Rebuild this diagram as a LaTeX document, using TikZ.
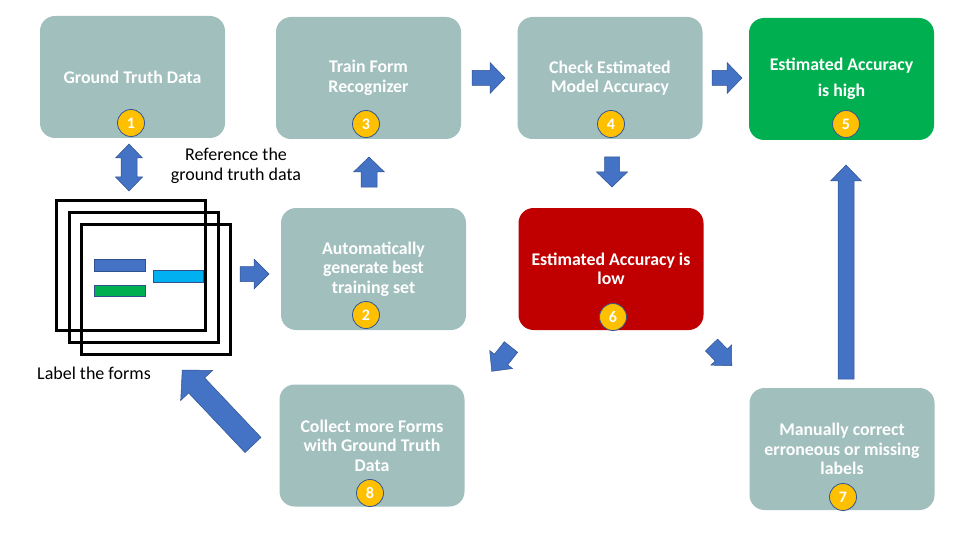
\documentclass[tikz,border=0pt]{standalone}
\usepackage{fontspec}
\setmainfont{Carlito}
\definecolor{boxc}{HTML}{A0BFBD}
\definecolor{redc}{HTML}{C00000}
\definecolor{greenc}{HTML}{00B050}
\definecolor{cyanc}{HTML}{00B0F0}
\definecolor{arrowc}{HTML}{4472C4}
\definecolor{arrowedge}{HTML}{2F528F}
\definecolor{badgec}{HTML}{FFC000}
\definecolor{badgeedge}{HTML}{2F5597}
\newcommand\blockarrow[7]{% tail x, tail y, angle, length, shaft half, head half, head length
  \begin{scope}[shift={(#1,#2)},rotate=#3]
    \filldraw[arrowpoly] (0,-#5) -- ({#4-#7},-#5) -- ({#4-#7},-#6) -- (#4,0) -- ({#4-#7},#6) -- ({#4-#7},#5) -- (0,#5) -- cycle;
  \end{scope}}
\begin{document}
\begin{tikzpicture}[x=1pt,y=1pt,
  box/.style={rounded corners=15pt, minimum width=185pt, minimum height=122pt, inner sep=0pt,
    align=center, text=white, fill=boxc, font=\fontsize{17.8}{19.5}\selectfont\bfseries},
  badge/.style={circle, fill=badgec, draw=badgeedge, line width=0.8pt, minimum size=27pt, inner sep=0pt,
    text=white, font=\fontsize{16}{16}\selectfont\bfseries},
  form/.style={draw=black, line width=3pt, minimum width=149pt, minimum height=130pt, inner sep=0pt},
  bar/.style={draw=arrowedge, line width=0.6pt, inner sep=0pt},
  lbl/.style={text=black, align=center, font=\fontsize{18}{20}\selectfont},
  arrowpoly/.style={fill=arrowc, draw=arrowedge, line width=0.5pt}]
\useasboundingbox (0,0) rectangle (960,-540);
% boxes
\node[box] (b1) at (132.5,-77) {Ground Truth Data};
\node[box] (b3) at (368.5,-78) {Train Form\\Recognizer};
\node[box] (b4) at (610,-78) {Check Estimated\\Model Accuracy};
\node[box, fill=greenc] (b5) at (841.5,-79) {Estimated Accuracy\\[7pt]is high};
\node[box] (b2) at (373.5,-269) {Automatically\\generate best\\training set};
\node[box, fill=redc] (b6) at (611,-269) {Estimated Accuracy is\\low};
\node[box] (b8) at (372,-445.5) {Collect more Forms\\with Ground Truth\\Data};
\node[box] (b7) at (842,-449) {Manually correct\\erroneous or missing\\labels};
% badges
\node[badge] (n1) at (131,-123) {1};
\node[badge] (n2) at (366,-315) {2};
\node[badge] (n3) at (366,-124) {3};
\node[badge] (n4) at (611,-124) {4};
\node[badge] (n5) at (846,-124) {5};
\node[badge] (n6) at (613,-317) {6};
\node[badge] (n7) at (843,-497) {7};
\node[badge] (n8) at (370,-493) {8};
% forms
\node[form] (f1) at (131.25,-265.5) {};
\node[form] (f2) at (143.5,-277.25) {};
\node[form] (f3) at (155.75,-289) {};
\node[bar, fill=arrowc, minimum width=51pt, minimum height=12pt] (bar1) at (119.5,-265) {};
\node[bar, fill=greenc, minimum width=51pt, minimum height=11pt] (bar2) at (119.5,-290.5) {};
\node[bar, fill=cyanc, minimum width=50pt, minimum height=12pt] (bar3) at (178,-276) {};
% labels
\node[lbl] (ref) at (236,-166) {Reference the\\ground truth data};
\node[lbl] (lab) at (94,-373) {Label the forms};
% block arrows
\blockarrow{472}{-78}{0}{33}{7.5}{15.5}{15}
\blockarrow{712}{-78}{0}{30}{7.5}{15.5}{15}
\blockarrow{612}{-157}{-90}{30}{7.5}{15.5}{15}
\blockarrow{369}{-187}{90}{30}{8}{15.5}{15}
\blockarrow{846}{-379}{90}{214}{8}{15.5}{16}
\blockarrow{240}{-274}{0}{29}{7.5}{15}{15}
\blockarrow{511}{-347}{231.6}{31}{8.5}{14.5}{15}
\blockarrow{711.5}{-345}{-45.7}{29}{8.5}{14.5}{15}
\blockarrow{253}{-445}{133.4}{103}{11}{22}{21}
% double arrow
\filldraw[arrowpoly] (129,-144) -- (142.5,-158) -- (137,-158) -- (137,-177) -- (142.5,-177) -- (129,-191)
  -- (115.5,-177) -- (121,-177) -- (121,-158) -- (115.5,-158) -- cycle;
\end{tikzpicture}
\end{document}
